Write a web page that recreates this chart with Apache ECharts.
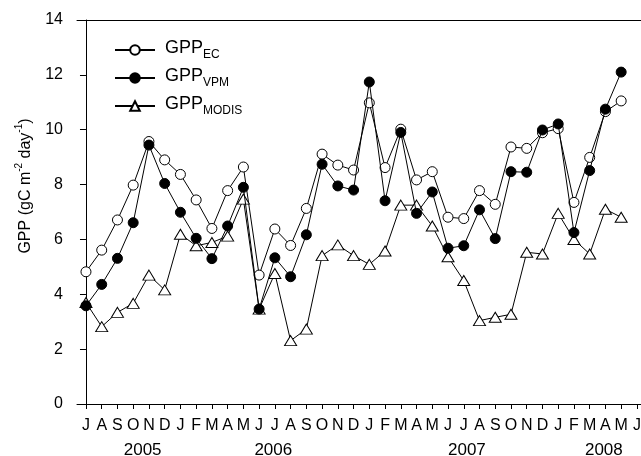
<!DOCTYPE html>
<html>
<head>
<meta charset="utf-8">
<script src="https://cdn.jsdelivr.net/npm/echarts@6/dist/echarts.min.js"></script>
<style>
  html, body { margin: 0; padding: 0; background: #fff; }
  #main { width: 641px; height: 456px; }
</style>
</head>
<body>
<div id="main"></div>
<script>
// months Jul 2005 .. Jun 2008 (tick labels)
const monthLabels = ['J','A','S','O','N','D',
  'J','F','M','A','M','J','J','A','S','O','N','D',
  'J','F','M','A','M','J','J','A','S','O','N','D',
  'J','F','M','A','M','J']
const yearLabels = ['2005', '2006', '2007', '2008']
const yearPos = [3.6, 11.9, 24.2, 32.9]

// monthly GPP, Jul 2005 .. May 2008
const gppEC = [4.82, 5.61, 6.71, 7.98, 9.57, 8.90, 8.37, 7.44, 6.40, 7.78, 8.64, 4.70,
  6.38, 5.78, 7.13, 9.11, 8.71, 8.53, 10.98, 8.62, 10.02, 8.17, 8.47, 6.81,
  6.76, 7.78, 7.28, 9.37, 9.32, 9.89, 10.04, 7.35, 8.99, 10.66, 11.05]
const gppVPM = [3.58, 4.36, 5.31, 6.61, 9.44, 8.04, 6.99, 6.04, 5.30, 6.49, 7.90, 3.46,
  5.33, 4.64, 6.17, 8.74, 7.95, 7.80, 11.74, 7.41, 9.90, 6.95, 7.73, 5.68,
  5.77, 7.08, 6.03, 8.47, 8.45, 9.99, 10.21, 6.25, 8.51, 10.75, 12.10]
const gppMODIS = [3.70, 2.82, 3.34, 3.67, 4.70, 4.16, 6.19, 5.77, 5.89, 6.12, 7.47, 3.46,
  4.76, 2.31, 2.73, 5.41, 5.80, 5.41, 5.09, 5.58, 7.25, 7.25, 6.49, 5.37,
  4.50, 3.04, 3.16, 3.27, 5.53, 5.47, 6.95, 6.00, 5.47, 7.10, 6.81]

const font = 'Liberation Sans, Arial, sans-serif'
const xMin = -0.57, xMax = 35.26
const tickIdx = monthLabels.map((m, i) => i)
const pts = arr => arr.map((v, i) => [i, v])

const legendNames = {'GPP_EC': 'EC', 'GPP_VPM': 'VPM', 'GPP_MODIS': 'MODIS'}

function mkSeries(name, data, symbol, size, fill, z) {
  return {
    name: name,
    type: 'line',
    z: z,
    data: pts(data),
    symbol: symbol,
    symbolSize: size,
    showAllSymbol: true,
    lineStyle: { color: '#000', width: 1 },
    itemStyle: { color: fill, borderColor: '#000', borderWidth: 1 },
    emphasis: { disabled: true },
    animation: false
  }
}

const option = {
  animation: false,
  textStyle: { fontFamily: font },
  grid: { left: 77, right: 0, top: 20, bottom: 52, outerBoundsMode: 'none', containLabel: false },
  legend: {
    orient: 'vertical',
    left: 109,
    top: 34,
    itemWidth: 40,
    itemHeight: 12,
    itemGap: 6,
    selectedMode: false,
    data: ['GPP_EC', 'GPP_VPM', 'GPP_MODIS'],
    formatter: n => '{m|GPP}{s|' + legendNames[n] + '}',
    textStyle: {
      padding: [0, 0, 0, 5],
      rich: {
        m: { fontSize: 18, fontFamily: font, color: '#000', lineHeight: 22, verticalAlign: 'top' },
        s: { fontSize: 12, fontFamily: font, color: '#000', lineHeight: 11, verticalAlign: 'bottom' }
      }
    }
  },
  xAxis: [
    {
      type: 'value', min: xMin, max: xMax,
      axisLine: { lineStyle: { color: '#000', width: 1 } },
      axisTick: { show: true, length: 5, customValues: tickIdx, lineStyle: { color: '#000' } },
      axisLabel: {
        customValues: tickIdx,
        formatter: v => monthLabels[Math.round(v)],
        color: '#000', fontSize: 16, fontFamily: font, margin: 14
      },
      splitLine: { show: false }
    },
    {
      type: 'value', min: xMin, max: xMax, position: 'bottom',
      axisLine: { show: false }, axisTick: { show: false },
      axisLabel: {
        customValues: yearPos,
        formatter: v => yearLabels[yearPos.indexOf(v)],
        color: '#000', fontSize: 17, fontFamily: font, margin: 38
      },
      splitLine: { show: false }
    },
    {
      type: 'value', min: xMin, max: xMax, position: 'top',
      axisLine: { lineStyle: { color: '#000', width: 1 } },
      axisTick: { show: false }, axisLabel: { show: false },
      splitLine: { show: false }
    }
  ],
  yAxis: {
    type: 'value', min: 0, max: 14, interval: 2,
    name: '{a|GPP (gC m}{p|-2}{a| day}{p|-1}{a|)}',
    nameLocation: 'middle',
    nameRotate: 90,
    nameGap: 43,
    nameMoveOverlap: false,
    nameTextStyle: {
      padding: [0, 0, 0, 52],
      rich: {
        a: { fontSize: 16, fontFamily: font, color: '#000', lineHeight: 20, verticalAlign: 'bottom' },
        p: { fontSize: 10, fontFamily: font, color: '#000', lineHeight: 10, verticalAlign: 'top' }
      }
    },
    axisLine: { show: true, lineStyle: { color: '#000', width: 1 } },
    axisTick: { show: true, length: 6, lineStyle: { color: '#000' } },
    axisLabel: { color: '#000', fontSize: 16, fontFamily: font, margin: 14 },
    splitLine: { show: false }
  },
  series: [
    mkSeries('GPP_EC', gppEC, 'circle', 10, '#fff', 2),
    mkSeries('GPP_MODIS', gppMODIS, 'triangle', [12, 10], '#fff', 3),
    mkSeries('GPP_VPM', gppVPM, 'circle', 10, '#000', 4)
  ]
}

const chart = echarts.init(document.getElementById('main'), null, { renderer: 'canvas' })
chart.setOption(option)
</script>
</body>
</html>
